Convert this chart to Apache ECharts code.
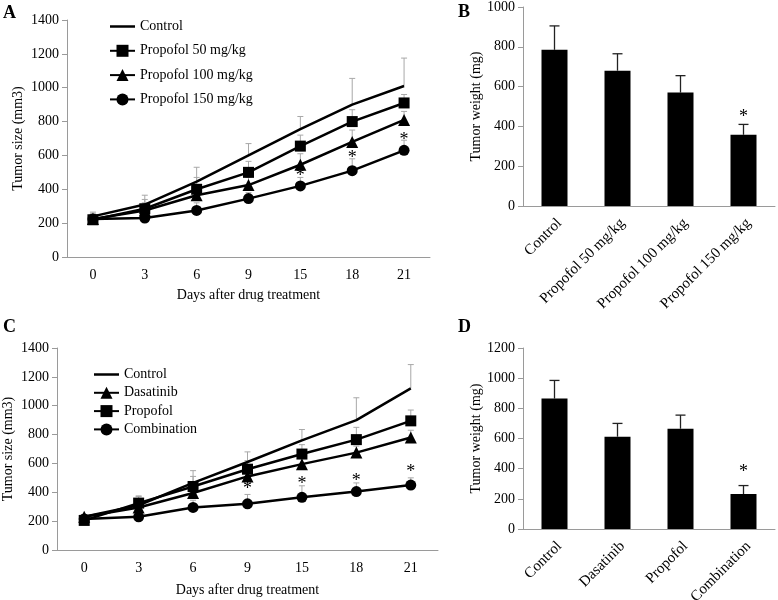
<!DOCTYPE html>
<html>
<head>
<meta charset="utf-8">
<script src="https://cdn.jsdelivr.net/npm/echarts@6/dist/echarts.min.js"></script>
<style>
  html,body{margin:0;padding:0;background:#fff;}
  #chart{width:778px;height:600px;}
</style>
</head>
<body>
<div id="chart"></div>
<script>
// panel A - tumor size, propofol doses
var days = ['0','3','6','9','15','18','21'];
var aControl = [240, 310, 445, 600, 755, 900, 1010];
var aControlErr = [265, 365, 530, 670, 830, 1055, 1175];
var aP50 = [220, 285, 400, 500, 655, 800, 910];
var aP50Err = [255, 340, 470, 565, 720, 870, 960];
var aP100 = [225, 275, 365, 425, 545, 680, 810];
var aP100Err = [240, 320, 420, 470, 610, 750, 860];
var aP150 = [225, 230, 275, 345, 420, 510, 630];
var aP150Err = [240, 250, 320, 380, 470, 580, 690];
var aStars = [null, null, null, null, 500, 607, 715];

// panel B - tumor weight
var bCats = ['Control', 'Propofol 50 mg/kg', 'Propofol 100 mg/kg', 'Propofol 150 mg/kg'];
var bWeight = [785, 680, 570, 358];
var bErr = [905, 765, 655, 410];
var bStars = [null, null, null, 467];

// panel C - tumor size, combination
var cControl = [230, 310, 465, 610, 760, 900, 1120];
var cControlErr = [245, 375, 550, 680, 835, 1055, 1285];
var cDasa = [230, 295, 395, 510, 595, 675, 780];
var cDasaErr = [245, 330, 445, 580, 660, 720, 830];
var cProp = [205, 325, 440, 560, 665, 765, 895];
var cPropErr = [220, 370, 510, 620, 730, 850, 970];
var cComb = [215, 230, 295, 320, 365, 405, 450];
var cCombErr = [225, 250, 345, 385, 445, 465, 500];
var cStars = [null, null, null, 450, 485, 506, 568];

// panel D - tumor weight
var dCats = ['Control', 'Dasatinib', 'Propofol', 'Combination'];
var dWeight = [865, 612, 665, 232];
var dErr = [985, 700, 755, 288];
var dStars = [null, null, null, 405];

var font = 'Liberation Serif, Times New Roman, serif';
var axisGrey = '#9a9a9a';
var lineIcon = 'path://M0,0H25V2.5H0Z';

function pairs(mean, top){
    return mean.map(function(v, i){ return [i, v, top[i]]; });
}
function starPts(arr){
    var out = [];
    arr.forEach(function(v, i){ if (v != null) out.push([i, v]); });
    return out;
}
function errSeries(idx, mean, top, color, cap, width){
    return {
        type: 'custom', xAxisIndex: idx, yAxisIndex: idx, z: 1, silent: true,
        data: pairs(mean, top),
        renderItem: function(params, api){
            var p1 = api.coord([api.value(0), api.value(1)]);
            var p2 = api.coord([api.value(0), api.value(2)]);
            var st = {stroke: color, lineWidth: width};
            return {type: 'group', children: [
                {type: 'line', shape: {x1: p1[0], y1: p1[1], x2: p2[0], y2: p2[1]}, style: st},
                {type: 'line', shape: {x1: p2[0] - cap, y1: p2[1], x2: p2[0] + cap, y2: p2[1]}, style: st}
            ]};
        }
    };
}
function lineSeries(idx, name, data, symbol, size){
    return {
        type: 'line', name: name, xAxisIndex: idx, yAxisIndex: idx, z: 3,
        data: data, symbol: symbol, symbolSize: size, showSymbol: symbol !== 'none',
        lineStyle: {color: '#000', width: 2.5},
        itemStyle: {color: '#000'}
    };
}
// asterisks marking significance
function starSeries(idx, arr){
    return {
        type: 'custom', xAxisIndex: idx, yAxisIndex: idx, z: 5, silent: true,
        data: starPts(arr),
        renderItem: function(params, api){
            var p = api.coord([api.value(0), api.value(1)]);
            return {type: 'text', x: p[0], y: p[1] + 4, style: {
                text: '*', fill: '#000', font: '18px ' + font,
                align: 'center', verticalAlign: 'middle'}};
        }
    };
}
// slanted category names under the bar panels (excel style placement)
function slantLabels(idx, cats){
    return {
        type: 'custom', xAxisIndex: idx, yAxisIndex: idx, z: 5, silent: true, clip: false,
        data: cats.map(function(c, i){ return [i, 0]; }),
        renderItem: function(params, api){
            var p = api.coord([api.value(0), 0]);
            return {type: 'text', x: p[0] + 5, y: p[1] + 15, rotation: Math.PI / 4, style: {
                text: cats[params.dataIndex], fill: '#000', font: '15px ' + font,
                align: 'right', verticalAlign: 'middle'}};
        }
    };
}
function catAxis(idx, cats, name, hideLabel, gap){
    return {
        type: 'category', gridIndex: idx, data: cats,
        name: name, nameLocation: 'middle', nameGap: gap || 31,
        nameTextStyle: {color: '#000', fontFamily: font, fontSize: 14},
        axisLine: {lineStyle: {color: axisGrey}},
        axisTick: {lineStyle: {color: axisGrey}, length: 5},
        axisLabel: {show: !hideLabel, color: '#000', fontFamily: font, fontSize: 14, margin: 11, interval: 0}
    };
}
function valAxis(idx, max, name, gap){
    return {
        type: 'value', gridIndex: idx, min: 0, max: max, interval: 200,
        name: name, nameLocation: 'middle', nameGap: gap,
        nameTextStyle: {color: '#000', fontFamily: font, fontSize: 14},
        axisLine: {show: true, lineStyle: {color: axisGrey}},
        axisTick: {show: true, lineStyle: {color: axisGrey}, length: 5},
        splitLine: {show: false},
        axisLabel: {color: '#000', fontFamily: font, fontSize: 14, margin: 8,
            formatter: function(v){ return String(v); }}
    };
}
function barSeries(idx, data){
    return {
        type: 'bar', xAxisIndex: idx, yAxisIndex: idx, data: data, barWidth: 26,
        itemStyle: {color: '#000'}, z: 2
    };
}
var legendText = {color: '#000', fontFamily: font, fontSize: 14};

var chart = echarts.init(document.getElementById('chart'));
chart.setOption({
    animation: false,
    textStyle: {fontFamily: font},
    grid: [
        {left: 67, top: 20, width: 363, height: 237, outerBoundsMode: 'none'},
        {left: 523, top: 7, width: 252, height: 199, outerBoundsMode: 'none'},
        {left: 57, top: 348, width: 381, height: 202, outerBoundsMode: 'none'},
        {left: 523, top: 348, width: 252, height: 181, outerBoundsMode: 'none'}
    ],
    xAxis: [
        catAxis(0, days, 'Days after drug treatment', false, 31),
        catAxis(1, bCats, '', true),
        catAxis(2, days, 'Days after drug treatment', false, 33),
        catAxis(3, dCats, '', true)
    ],
    yAxis: [
        valAxis(0, 1400, 'Tumor size (mm3)', 42),
        valAxis(1, 1000, 'Tumor weight (mg)', 40),
        valAxis(2, 1400, 'Tumor size (mm3)', 42),
        valAxis(3, 1200, 'Tumor weight (mg)', 40)
    ],
    legend: [
        {data: [{name: 'Control', icon: lineIcon}, 'Propofol 50 mg/kg', 'Propofol 100 mg/kg', 'Propofol 150 mg/kg'],
         orient: 'vertical', left: 109, top: 19.5, padding: 0, itemWidth: 25, itemHeight: 15, itemGap: 10.3,
         selectedMode: false, textStyle: legendText},
        {data: [{name: 'Control', icon: lineIcon}, 'Dasatinib', 'Propofol', 'Combination'],
         orient: 'vertical', left: 93, top: 367.5, padding: 0, itemWidth: 25, itemHeight: 15, itemGap: 4.3,
         selectedMode: false, textStyle: legendText}
    ],
    graphic: [
        {type: 'text', left: 3, top: 4, style: {text: 'A', font: 'bold 18px ' + font, fill: '#000'}},
        {type: 'text', left: 458, top: 3, style: {text: 'B', font: 'bold 18px ' + font, fill: '#000'}},
        {type: 'text', left: 3, top: 318, style: {text: 'C', font: 'bold 18px ' + font, fill: '#000'}},
        {type: 'text', left: 458, top: 318, style: {text: 'D', font: 'bold 18px ' + font, fill: '#000'}}
    ],
    series: [
        errSeries(0, aControl, aControlErr, '#a8a8a8', 3, 1),
        errSeries(0, aP50, aP50Err, '#a8a8a8', 3, 1),
        errSeries(0, aP100, aP100Err, '#a8a8a8', 3, 1),
        errSeries(0, aP150, aP150Err, '#a8a8a8', 3, 1),
        lineSeries(0, 'Control', aControl, 'none', 0),
        lineSeries(0, 'Propofol 50 mg/kg', aP50, 'rect', 11),
        lineSeries(0, 'Propofol 100 mg/kg', aP100, 'triangle', 12),
        lineSeries(0, 'Propofol 150 mg/kg', aP150, 'circle', 11),
        starSeries(0, aStars),

        errSeries(1, bWeight, bErr, '#222', 5, 1.3),
        barSeries(1, bWeight),
        starSeries(1, bStars),
        slantLabels(1, bCats),

        errSeries(2, cControl, cControlErr, '#a8a8a8', 3, 1),
        errSeries(2, cDasa, cDasaErr, '#a8a8a8', 3, 1),
        errSeries(2, cProp, cPropErr, '#a8a8a8', 3, 1),
        errSeries(2, cComb, cCombErr, '#a8a8a8', 3, 1),
        lineSeries(2, 'Control', cControl, 'none', 0),
        lineSeries(2, 'Dasatinib', cDasa, 'triangle', 12),
        lineSeries(2, 'Propofol', cProp, 'rect', 11),
        lineSeries(2, 'Combination', cComb, 'circle', 11),
        starSeries(2, cStars),

        errSeries(3, dWeight, dErr, '#222', 5, 1.3),
        barSeries(3, dWeight),
        starSeries(3, dStars),
        slantLabels(3, dCats)
    ]
});
</script>
</body>
</html>
